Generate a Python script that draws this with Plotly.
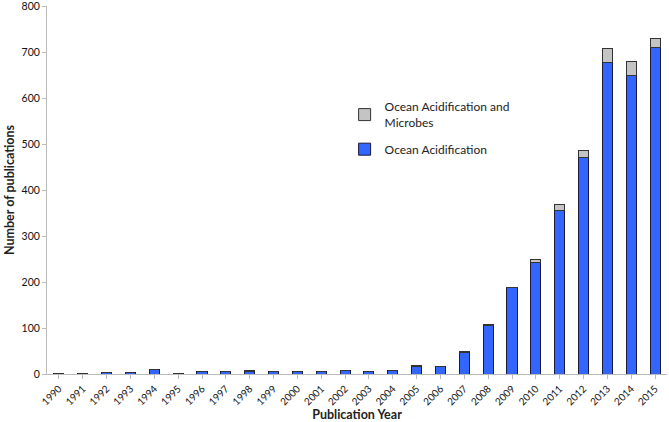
import plotly.graph_objects as go

years = [str(y) for y in range(1990, 2016)]
# Ocean Acidification (blue) and the extra part for "and Microbes" (gray, stacked on top)
ocean_acid = [1, 2, 3, 3, 10, 2, 6, 6, 6, 5, 5, 5, 7, 5, 8, 16, 17, 47, 105, 187, 242, 355, 470, 678, 650, 710]
ocean_microbes = [0, 0, 1, 0, 0, 0, 0, 0, 1, 0, 0, 0, 0, 0, 0, 2, 0, 1, 2, 2, 8, 13, 15, 30, 30, 20]

y_ticks = [0, 100, 200, 300, 400, 500, 600, 700, 800]

FONT = "Lato, 'Open Sans', sans-serif"

fig = go.Figure()
fig.add_trace(go.Bar(
    x=years, y=ocean_acid, name="Ocean Acidification",
    legendgroup="oa", legendrank=2,
    marker=dict(color="#3366FF", line=dict(color="#1a1a3a", width=1)),
))
fig.add_trace(go.Bar(
    x=years, y=ocean_microbes, name="Ocean Acidification and<br>Microbes",
    legendgroup="oam", legendrank=1,
    marker=dict(color="#C4C4C4", line=dict(color="#333333", width=1)),
))

fig.update_layout(
    width=669, height=422,
    barmode="stack", bargap=0.58,
    plot_bgcolor="white", paper_bgcolor="white",
    margin=dict(l=47, r=2, t=6, b=48, autoexpand=False),
    font=dict(family=FONT, color="#222222", size=11),
    legend=dict(
        x=0.48, y=0.765, xanchor="left", yanchor="top",
        traceorder="grouped", font=dict(size=12),
        bgcolor="rgba(0,0,0,0)", tracegroupgap=8,
    ),
    xaxis=dict(
        title=dict(text="<b>Publication Year</b>", font=dict(size=12.5), standoff=1),
        tickangle=-45, tickfont=dict(size=10, color="#111111"), automargin=False,
        showline=True, linecolor="#BBBBBB", linewidth=1,
        ticks="outside", ticklen=4, tickcolor="#BBBBBB",
        showgrid=False,
    ),
    yaxis=dict(
        title=dict(text="<b>Number of publications</b>", font=dict(size=12.5), standoff=4),
        range=[0, 800], tickvals=y_ticks, tickfont=dict(size=10.5, color="#111111"),
        automargin=False, ticklabeloverflow="allow",
        showline=True, linecolor="#BBBBBB", linewidth=1,
        ticks="outside", ticklen=4, tickcolor="#BBBBBB",
        showgrid=False, zeroline=False,
    ),
)

# page body has a default 8px margin; drop it so the figure sits at the corner
fig.write_html("out.html", config={"displayModeBar": False},
               post_script="document.body.style.margin='0';")
